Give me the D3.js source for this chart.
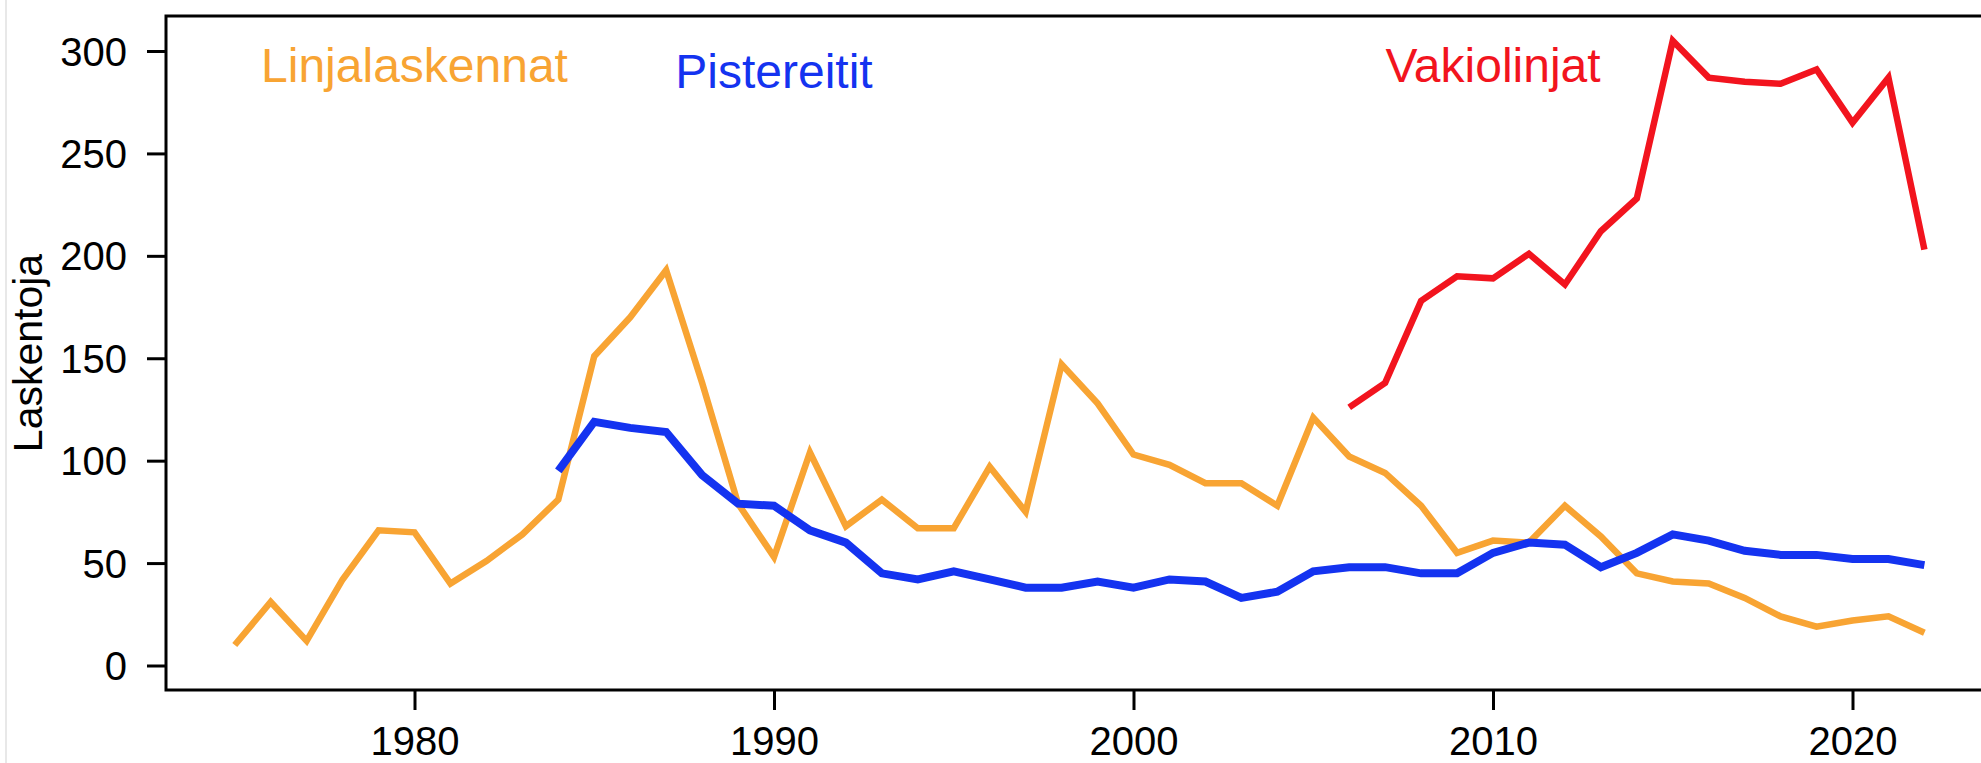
<!DOCTYPE html>
<html>
<head>
<meta charset="utf-8">
<script src="https://cdn.jsdelivr.net/npm/d3@7"></script>
<style>
  body { margin: 0; background: #fff; }
  svg { display: block; font-family: "Liberation Sans", Arial, Helvetica, sans-serif; }
</style>
</head>
<body>
<div id="chart"></div>
<script>
// vuodet ja laskentamäärät
const linjaYears = d3.range(1975, 2023);
const linjaCounts = [10, 31, 12, 42, 66, 65, 40, 51, 64, 81,
    151, 170, 193, 138, 79, 53, 104, 68, 81, 67,
    67, 97, 75, 147, 128, 103, 98, 89, 89, 78,
    121, 102, 94, 78, 55, 61, 60, 78, 63, 45,
    41, 40, 33, 24, 19, 22, 24, 16];

const pisteYears = d3.range(1984, 2023);
const pisteCounts = [95, 119, 116, 114, 93, 79, 78, 66, 60, 45,
    42, 46, 42, 38, 38, 41, 38, 42, 41, 33,
    36, 46, 48, 48, 45, 45, 55, 60, 59, 48,
    55, 64, 61, 56, 54, 54, 52, 52, 49];

const vakioYears = d3.range(2006, 2023);
const vakioCounts = [126, 138, 178, 190, 189, 201, 186, 212, 228,
    305, 287, 285, 284, 291, 265, 287, 203];

const yTicks = [0, 50, 100, 150, 200, 250, 300];
const xTicks = [1980, 1990, 2000, 2010, 2020];

const seriesNames = ["Linjalaskennat", "Pistereitit", "Vakiolinjat"];
const seriesColors = ["#f8a433", "#1433f0", "#f2141e"];

const W = 1981, H = 763;
const plotLeft = 166, plotTop = 16, plotBottom = 690;

const x = d3.scaleLinear()
    .domain([1980, 2020])
    .range([414.5, 1852.5]);

const y = d3.scaleLinear()
    .domain([0, 300])
    .range([665.5, 51]);

const svg = d3.select("#chart").append("svg")
    .attr("width", W)
    .attr("height", H);

// faint screenshot edge
svg.append("line")
    .attr("x1", 6).attr("x2", 6)
    .attr("y1", 0).attr("y2", H)
    .attr("stroke", "#e8e8e8")
    .attr("stroke-width", 2);

// box (top, left, bottom)
svg.append("path")
    .attr("d", "M" + (W + 10) + "," + plotTop + "H" + plotLeft + "V" + plotBottom + "H" + (W + 10))
    .attr("fill", "none")
    .attr("stroke", "#000")
    .attr("stroke-width", 3);

const yAxis = svg.append("g")
    .attr("transform", "translate(" + plotLeft + ",0)")
    .call(d3.axisLeft(y).tickValues(yTicks).tickSize(19).tickPadding(20).tickFormat(d3.format("d")));

const xAxis = svg.append("g")
    .attr("transform", "translate(0," + plotBottom + ")")
    .call(d3.axisBottom(x).tickValues(xTicks).tickSize(20).tickPadding(17).tickFormat(d3.format("d")));

[yAxis, xAxis].forEach(function(ax) {
    ax.select(".domain").remove();
    ax.selectAll(".tick line").attr("stroke", "#000").attr("stroke-width", 3);
    ax.selectAll(".tick text")
        .attr("fill", "#000")
        .style("font-size", "40px")
        .style("font-family", "'Liberation Sans', Arial, sans-serif");
});
yAxis.selectAll(".tick text").attr("dy", "0.35em");

// y axis label
svg.append("text")
    .attr("transform", "translate(42," + ((plotTop + plotBottom) / 2) + ") rotate(-90)")
    .style("text-anchor", "middle")
    .style("font-size", "41px")
    .text("Laskentoja");

const line = d3.line()
    .x(function(d) { return x(d[0]); })
    .y(function(d) { return y(d[1]); });

const series = [
    {years: linjaYears, counts: linjaCounts, width: 6.5},
    {years: pisteYears, counts: pisteCounts, width: 8},
    {years: vakioYears, counts: vakioCounts, width: 6.5}
];

series.forEach(function(s, i) {
    svg.append("path")
        .attr("d", line(d3.zip(s.years, s.counts)))
        .attr("fill", "none")
        .attr("stroke", seriesColors[i])
        .attr("stroke-width", s.width)
        .attr("stroke-linejoin", "miter")
        .attr("stroke-linecap", "butt");
});

// series labels
const labelPos = [[1980, 293], [1990, 290], [2010, 293]];
seriesNames.forEach(function(name, i) {
    svg.append("text")
        .attr("x", x(labelPos[i][0]))
        .attr("y", y(labelPos[i][1]))
        .attr("dy", "0.35em")
        .style("text-anchor", "middle")
        .style("font-size", "48px")
        .attr("fill", seriesColors[i])
        .text(name);
});
</script>
</body>
</html>
